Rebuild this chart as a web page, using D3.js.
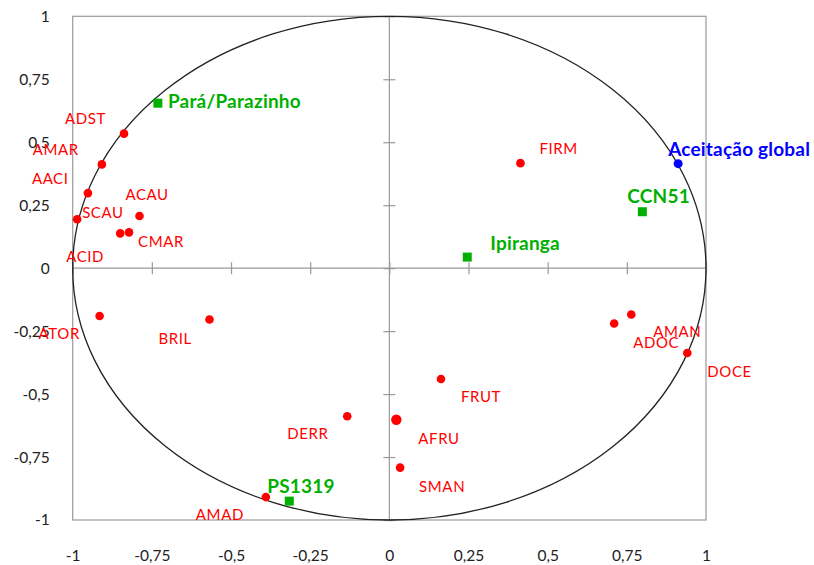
<!DOCTYPE html>
<html>
<head>
<meta charset="utf-8">
<script src="https://cdn.jsdelivr.net/npm/d3@7"></script>
<style>
  html, body { margin: 0; padding: 0; background: #fff; }
  svg { display: block; font-family: Lato, "Open Sans", sans-serif; }
</style>
</head>
<body>
<div id="chart"></div>
<script>
'use strict';

// ─── Data ────────────────────────────────────────────────────────────────────
const attrNames = ['ADST', 'AMAR', 'AACI', 'SCAU', 'ACAU', 'CMAR', 'ACID', 'ATOR', 'BRIL',
                   'DERR', 'AMAD', 'AFRU', 'SMAN', 'FRUT', 'FIRM', 'AMAN', 'ADOC', 'DOCE'];
const attrX = [-0.838, -0.908, -0.952, -0.986, -0.789, -0.822, -0.850, -0.915, -0.568,
               -0.133, -0.390,  0.022,  0.034,  0.163,  0.414,  0.764,  0.710,  0.941];
const attrY = [ 0.534,  0.412,  0.298,  0.194,  0.207,  0.142,  0.138, -0.190, -0.204,
               -0.588, -0.909, -0.602, -0.792, -0.440,  0.417, -0.184, -0.220, -0.337];

const cultivarNames = ['Pará/Parazinho', 'CCN51', 'Ipiranga', 'PS1319'];
const cultivarX = [-0.731, 0.799, 0.246, -0.316];
const cultivarY = [ 0.655, 0.224, 0.044, -0.925];

const globalNames = ['Aceitação global'];
const globalX = [0.912];
const globalY = [0.415];

const tickValues = [-1, -0.75, -0.5, -0.25, 0, 0.25, 0.5, 0.75, 1];

// label offsets from the marker, in px (text start, baseline)
const labelOffset = {
  'ADST': [-59, -10], 'AMAR': [-69, -9], 'AACI': [-56, -9], 'SCAU': [5, -1],
  'ACAU': [-14, -16], 'CMAR': [9, 15], 'ACID': [-54, 29], 'ATOR': [-61, 23],
  'BRIL': [-51, 24], 'DERR': [-60, 23], 'AMAD': [-70, 23], 'AFRU': [22, 24],
  'SMAN': [19, 24], 'FRUT': [20, 23], 'FIRM': [19, -9], 'AMAN': [22, 23],
  'ADOC': [19, 24], 'DOCE': [20, 24],
  'Pará/Parazinho': [10, 5], 'CCN51': [-15, -9], 'Ipiranga': [23, -7], 'PS1319': [-22, -8],
  'Aceitação global': [-10, -8]
};

// ─── Layout ──────────────────────────────────────────────────────────────────
const W = 814, H = 565;
const margin = { top: 16.3, right: 108, bottom: 45, left: 72.7 };
const plotW = W - margin.left - margin.right;
const plotH = H - margin.top - margin.bottom;

const RED = '#ff0000', GREEN = '#00b000', BLUE = '#0000ff', GRID = '#9a9a9a';

const ptFmt = d3.formatLocale({ decimal: ',', thousands: '.', grouping: [3], currency: ['', ''], minus: '-' })
  .format('~g');

const x = d3.scaleLinear().domain([-1, 1]).range([margin.left, margin.left + plotW]);
const y = d3.scaleLinear().domain([-1, 1]).range([margin.top + plotH, margin.top]);

const svg = d3.select('#chart').append('svg').attr('width', W).attr('height', H);

// ─── Frame + centre axes ─────────────────────────────────────────────────────
svg.append('rect')
  .attr('x', x(-1)).attr('y', y(1))
  .attr('width', x(1) - x(-1)).attr('height', y(-1) - y(1))
  .attr('fill', 'none').attr('stroke', GRID).attr('stroke-width', 1.2);

svg.append('line')
  .attr('x1', x(-1)).attr('x2', x(1)).attr('y1', y(0)).attr('y2', y(0))
  .attr('stroke', GRID).attr('stroke-width', 1.2);
svg.append('line')
  .attr('x1', x(0)).attr('x2', x(0)).attr('y1', y(-1)).attr('y2', y(1))
  .attr('stroke', GRID).attr('stroke-width', 1.2);

// crossing tick marks on the centre axes
const xTickAxis = svg.append('g')
  .attr('transform', `translate(0,${y(0) - 6})`)
  .call(d3.axisBottom(x).tickValues(tickValues).tickSize(12).tickFormat(''));
const yTickAxis = svg.append('g')
  .attr('transform', `translate(${x(0) - 6},0)`)
  .call(d3.axisRight(y).tickValues(tickValues).tickSize(12).tickFormat(''));
[xTickAxis, yTickAxis].forEach(g => {
  g.select('.domain').remove();
  g.selectAll('line').attr('stroke', GRID).attr('stroke-width', 1.2);
});

// tick labels outside the frame
const xLab = svg.append('g')
  .attr('transform', `translate(0,${y(-1)})`)
  .call(d3.axisBottom(x).tickValues(tickValues).tickSize(0).tickPadding(30).tickFormat(ptFmt));
const yLab = svg.append('g')
  .attr('transform', `translate(${x(-1)},0)`)
  .call(d3.axisLeft(y).tickValues(tickValues).tickSize(0).tickPadding(23).tickFormat(ptFmt));
[xLab, yLab].forEach(g => {
  g.select('.domain').remove();
  g.selectAll('text').attr('font-family', 'Lato, sans-serif').attr('font-size', 15.5).attr('fill', '#222');
});

// correlation circle
svg.append('ellipse')
  .attr('cx', x(0)).attr('cy', y(0))
  .attr('rx', x(1) - x(0)).attr('ry', y(0) - y(1))
  .attr('fill', 'none').attr('stroke', '#222').attr('stroke-width', 1.3);

// ─── Points ──────────────────────────────────────────────────────────────────
const attrs = attrNames.map((n, i) => ({ name: n, x: attrX[i], y: attrY[i] }));
const cults = cultivarNames.map((n, i) => ({ name: n, x: cultivarX[i], y: cultivarY[i] }));
const glob  = globalNames.map((n, i) => ({ name: n, x: globalX[i], y: globalY[i] }));

svg.append('g').selectAll('circle').data(attrs).join('circle')
  .attr('cx', d => x(d.x)).attr('cy', d => y(d.y))
  .attr('r', d => d.name === 'AFRU' ? 5.2 : 4.3)
  .attr('fill', RED);

svg.append('g').selectAll('rect').data(cults).join('rect')
  .attr('x', d => x(d.x) - 4.5).attr('y', d => y(d.y) - 4.5)
  .attr('width', 9).attr('height', 9)
  .attr('fill', GREEN);

svg.append('g').selectAll('circle').data(glob).join('circle')
  .attr('cx', d => x(d.x)).attr('cy', d => y(d.y))
  .attr('r', 4.5)
  .attr('fill', BLUE);

// ─── Labels ──────────────────────────────────────────────────────────────────
function addLabels(data, color, size, weight, spacing) {
  svg.append('g').selectAll('text').data(data).join('text')
    .attr('x', d => x(d.x) + labelOffset[d.name][0])
    .attr('y', d => y(d.y) + labelOffset[d.name][1])
    .attr('fill', color)
    .attr('font-size', size)
    .attr('font-weight', weight)
    .attr('letter-spacing', spacing)
    .text(d => d.name);
}
addLabels(attrs, RED, 15, 400, 0.6);
addLabels(cults, GREEN, 19, 700, 0.2);
addLabels(glob, BLUE, 19, 700, 0.2);
</script>
</body>
</html>
